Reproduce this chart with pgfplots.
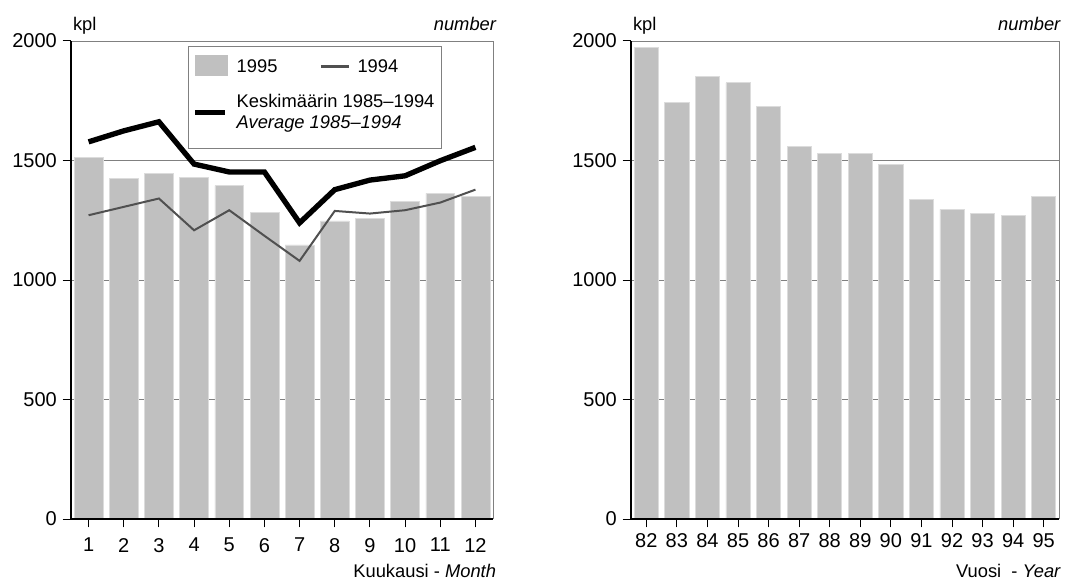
\documentclass[border=0pt]{standalone}
\usepackage{pgfplots}
\pgfplotsset{compat=1.18}
\usepackage{fontspec}
\setmainfont{Liberation Sans}

\definecolor{barcol}{HTML}{C0C0C0}
\definecolor{baredge}{HTML}{DCDCDC}
\definecolor{line94}{HTML}{505050}
\definecolor{gridcol}{HTML}{808080}

\pgfplotsset{
  panel/.style={
    scale only axis,
    height=286.8pt,
    ymin=0, ymax=2000,
    ytick={0,500,1000,1500,2000},
    axis lines*=left,
    axis line style={-, black, line width=0.8pt},
    ymajorgrids,
    grid style={gridcol, line width=0.5pt},
    tick align=outside,
    major tick length=5pt,
    tick style={black, line width=0.6pt},
    /pgf/number format/assume math mode=true,
    /pgf/number format/1000 sep={},
    tick label style={font=\fontsize{12}{14}\selectfont},
    clip=false,
  },
}

\begin{document}
\begin{tikzpicture}[font=\fontsize{11}{13}\selectfont]
% vasen: kuukaudet
\begin{axis}[panel,
  width=253.2pt,
  xmin=0.5, xmax=12.5,
  xtick={1,2,...,12},
  xticklabel style={yshift=-3pt},
]
\addplot[ybar, bar width=0.82, fill=barcol, draw=baredge] coordinates {
  (1,1514) (2,1426) (3,1446) (4,1429) (5,1395) (6,1283)
  (7,1147) (8,1247) (9,1257) (10,1330) (11,1362) (12,1348)};
\addplot[line94, line width=1.2pt, sharp plot] coordinates {
  (1,1271) (2,1306) (3,1341) (4,1208) (5,1292) (6,1185)
  (7,1080) (8,1289) (9,1278) (10,1292) (11,1324) (12,1378)};
\addplot[black, line width=3.2pt, sharp plot] coordinates {
  (1,1578) (2,1624) (3,1662) (4,1485) (5,1452) (6,1452)
  (7,1239) (8,1378) (9,1418) (10,1436) (11,1499) (12,1555)};
\draw[gridcol, line width=0.6pt] (rel axis cs:1,0) -- (rel axis cs:1,1);
\draw[black, line width=0.8pt] (rel axis cs:0,0) -- (rel axis cs:1,0);
\node[anchor=base west, inner sep=0pt] at ([xshift=1pt,yshift=6pt]rel axis cs:0,1) {kpl};
\node[anchor=base east, inner sep=0pt] at ([xshift=2pt,yshift=6pt]rel axis cs:1,1) {\itshape number};
\node[anchor=base east, inner sep=0pt] at ([xshift=2pt,yshift=-35pt]rel axis cs:1,0) {Kuukausi - \itshape Month};
\node[draw=gridcol, fill=white, anchor=north west, inner xsep=4pt, inner ysep=5pt, line width=0.6pt]
  at (rel axis cs:0.277,0.99) {%
  \begin{tabular}{@{}l@{\hspace{5pt}}l@{\hspace{26pt}}l@{\hspace{5pt}}l@{}}
  \textcolor{barcol}{\rule[-2pt]{20pt}{13pt}}&1995&%
  \textcolor{line94}{\rule[3.2pt]{17pt}{1.4pt}}&1994\\[7.5pt]
  \rule[-13pt]{0pt}{1pt}\textcolor{black}{\rule[1.8pt]{18pt}{3.4pt}}&%
  \multicolumn{3}{@{}l@{}}{\begin{tabular}[c]{@{}l@{}}Keskimäärin 1985–1994\\ \itshape Average 1985–1994\end{tabular}}%
  \end{tabular}};
\end{axis}

% oikea: vuodet
\begin{axis}[panel,
  at={(336pt,0pt)},
  width=256.8pt,
  xmin=81.5, xmax=95.5,
  xtick={82,83,...,95},
]
\addplot[ybar, bar width=0.79, fill=barcol, draw=baredge] coordinates {
  (82,1973) (83,1742) (84,1853) (85,1825) (86,1726) (87,1559) (88,1531)
  (89,1528) (90,1482) (91,1338) (92,1296) (93,1278) (94,1270) (95,1348)};
\draw[gridcol, line width=0.6pt] (rel axis cs:1,0) -- (rel axis cs:1,1);
\draw[black, line width=0.8pt] (rel axis cs:0,0) -- (rel axis cs:1,0);
\node[anchor=base west, inner sep=0pt] at ([xshift=1pt,yshift=6pt]rel axis cs:0,1) {kpl};
\node[anchor=base east, inner sep=0pt] at ([xshift=1pt,yshift=6pt]rel axis cs:1,1) {\itshape number};
\node[anchor=base east, inner sep=0pt] at ([xshift=1pt,yshift=-35pt]rel axis cs:1,0) {Vuosi\ \ - \itshape Year};
\end{axis}

\path (-42.6pt,-36.6pt) rectangle (601.2pt,311.4pt);
\end{tikzpicture}
\end{document}
